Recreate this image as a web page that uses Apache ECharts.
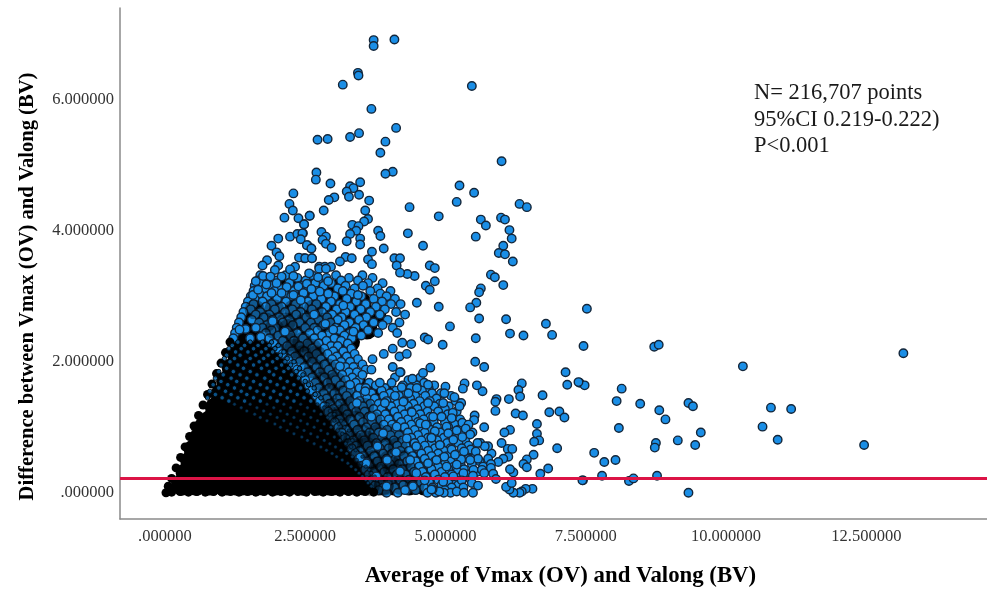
<!DOCTYPE html>
<html><head><meta charset="utf-8">
<style>html,body{margin:0;padding:0;background:#fff}#c{width:987px;height:589px}</style>
<script src="https://cdn.jsdelivr.net/npm/echarts@6/dist/echarts.min.js"></script>
</head><body><div id="c"></div>
<script>
const xTicks = [0, 2.5, 5, 7.5, 10, 12.5];
const xTickLabels = ['.000000','2.500000','5.000000','7.500000','10.000000','12.500000'];
const yTicks = [0, 2, 4, 6];
const yTickLabels = ['.000000','2.000000','4.000000','6.000000'];
const meanDifference = 0.22;
const annotationLines = ['N= 216,707 points','95%CI 0.219-0.222)','P<0.001'];

// isolated points
const sparsePoints = [
[7.52,2.81],[7.46,2.24],[8.72,2.23],[8.80,2.26],[13.16,2.13],[10.30,1.93],[7.39,1.68],[7.48,1.64],[8.14,1.59],[8.05,1.40],[8.47,1.36],[9.33,1.37],[9.41,1.32],[10.80,1.30],[11.16,1.28],[8.81,1.26],[8.92,1.12],[8.09,.99],[10.65,1.01],[9.55,.92],[9.14,.80],[10.92,.81],[8.75,.76],[8.73,.69],[9.45,.73],[12.46,.73],[7.65,.61],[7.83,.47],[8.03,.50],[7.79,.26],[7.45,.19],[8.27,.18],[8.35,.22],[8.77,.26],[9.33,0],
[3.72,6.91],[3.72,6.82],[4.09,6.92],[3.44,6.41],[3.45,6.37],[3.17,6.23],[5.47,6.21],[3.68,5.86],[4.12,5.57],[3.46,5.49],[3.30,5.43],[2.72,5.39],[2.90,5.40],[3.93,5.36],[3.84,5.19],[6.00,5.06],[4.06,4.90],[3.93,4.87],[2.70,4.89],[2.69,4.78],[2.95,4.72],[3.48,4.74],[5.25,4.69],[3.30,4.68],[3.36,4.65],[3.24,4.60],[5.51,4.58],[3.28,4.52],[3.46,4.55],[3.02,4.51],[2.92,4.47],[3.64,4.46],[5.20,4.44],[6.32,4.41],[6.45,4.36],[4.36,4.36],[3.57,4.31],[2.83,4.31],[2.58,4.23],[4.88,4.22],[5.99,4.20],[6.06,4.17],[5.63,4.17],[5.72,4.08],[3.62,4.18],[3.55,4.14],[2.48,4.10],[3.34,4.09],[3.45,4.07],[3.41,4.00],[3.80,4.00],[6.14,4.01],[2.79,3.98],[3.30,3.95],[2.46,3.96],[3.84,3.92],[4.33,3.96],[5.54,3.91],[2.87,3.91],[6.18,3.88],[3.48,3.88],[3.24,3.84],[2.81,3.86],[2.87,3.80],[2.54,3.78],[3.48,3.79],[4.60,3.77],[6.03,3.77],[2.61,3.73],[2.97,3.74],[3.90,3.73],[3.69,3.68],[5.95,3.66],[6.06,3.64],[3.22,3.60],[3.33,3.58],[2.62,3.58],[2.48,3.58],[3.62,3.56],[4.09,3.58],[4.19,3.58],[3.12,3.53],[3.69,3.49],[6.20,3.53],[4.13,3.47],[4.72,3.47],[4.81,3.43],[2.75,3.45],[2.85,3.45],[2.96,3.45],
[5.81,3.33],[5.88,3.29],[6.03,3.17],[4.81,3.23],[4.65,3.16],[4.72,3.10],[4.45,3.31],[4.32,3.34],[4.19,3.36],[5.63,3.12],[5.60,3.06],[5.55,2.90],[5.44,2.83],[4.49,2.90],[4.88,2.84],[5.60,2.66],[6.08,2.65],[6.79,2.58],[6.90,2.41],[6.15,2.43],[6.39,2.40],[5.08,2.54],[5.54,2.36],[4.63,2.37],[4.69,2.34],[4.95,2.26],[4.39,2.27],[4.23,2.29],[4.31,2.12],[5.53,2.00],[5.69,1.92],[4.73,1.91],[7.14,1.84],[7.17,1.65],[7.37,1.69],[6.36,1.67],[6.30,1.57],[6.33,1.47],[6.13,1.43],[5.91,1.43],[5.89,1.39],[6.73,1.49],[5.89,1.25],[6.25,1.21],[6.38,1.18],[6.85,1.23],[7.03,1.24],[7.12,1.15],[6.63,1.05],[6.63,.90],[6.67,.80],[6.58,.78],[6.99,.68],[6.57,.58],[6.45,.51],[6.39,.44],[6.45,.39],[6.83,.37],[6.69,.29],[7.44,.19],[6.55,.06],[6.43,.06],[6.36,.02],[6.32,0],[6.21,0],[6.14,.05],[6.08,.09],[6.18,.15],[6.21,.31],[6.15,.36],[6.15,.96],[6.05,.92],[6.00,.76],[6.11,.67],[6.19,.67],[6.12,.55],[6.03,.52],[5.94,.47],[5.81,.44],[5.81,.38],[5.85,.29],[5.90,.21],[5.76,.71],[5.70,.71],[5.57,.76],[5.69,1.00],[5.52,1.18],[5.51,1.11],[5.66,1.55],[5.56,1.64],[5.34,1.67],[5.31,1.59],[5.28,1.37],[5.25,1.32],[5.16,1.46],[5.00,1.62],[4.98,1.52],[4.96,1.37],[5.13,1.22],[5.11,1.14],[4.93,1.16],[4.78,1.16],[5.30,1.07],[5.41,1.04],[5.36,.98],[5.44,.89],[5.20,.95],[5.02,1.01],[5.05,.91],[5.14,.81],[5.30,.85],[4.81,.94],[4.75,.84],[4.90,.73],[5.11,.66],[5.45,.66],[5.33,.63],[5.54,.63],[5.58,.52],[5.44,.50],[5.28,.51],[5.17,.58],[4.98,.55],[4.84,.50],[5.02,.40],[5.20,.43],[5.50,.35],[5.65,.35],[5.69,.30],[5.32,.30],[5.14,.25],[5.49,.26],[4.96,.17],[5.29,.19],[5.47,.15],[5.58,.11],[5.32,.08],[5.20,.02],[5.33,0],[5.49,0],[4.97,0],[4.89,.02],[4.77,.05],
[2.29,4.57],[2.22,4.41],[2.28,4.31],[2.13,4.20],[2.38,4.19],[2.58,4.23],[2.48,4.10],[2.02,3.88],[1.90,3.77],[2.23,3.91],[2.36,3.95],[2.45,3.96],[2.42,3.87],[2.53,3.78],[2.61,3.73],[1.99,3.67],[2.04,3.61],[2.39,3.59],[2.50,3.58],[2.62,3.58],[1.82,3.55],[1.74,3.47],[2.02,3.47],[1.96,3.40],[2.32,3.45],[2.23,3.41],[2.75,3.42],[2.87,3.42],[2.57,3.35],[2.73,3.29],[2.91,3.23],[1.62,3.23],[1.75,3.31],[1.88,3.30],[2.08,3.30],[2.29,3.31],[1.57,3.02],[1.81,3.18],[1.99,3.20],[2.17,3.14],[2.38,3.15],[2.53,3.19],[2.61,3.11],[2.76,3.07],[2.91,3.04],[1.66,3.10],[1.90,3.05],[2.08,3.05],[2.29,3.02],[2.47,3.05]
];

// the crowded band, read row by row: [y, [x, x, ...]]
const crowdedRows = [
[3.32,[1.70,2.15,2.62,3.05,3.52]],[3.28,[1.84,2.36,2.88,3.28,3.70]],[3.24,[1.66,1.98,2.51,2.74,3.14,3.44]],[3.20,[1.72,2.22,2.68,2.96,3.62,3.88]],
[3.16,[1.60,1.89,2.41,2.83,3.22,3.53]],[3.12,[1.78,2.04,2.56,3.08,3.38,3.79]],[3.08,[1.58,1.95,2.30,2.71,3.17,3.66,4.02]],[3.04,[1.68,2.12,2.47,2.90,3.32,3.84]],
[3.00,[1.53,1.82,2.25,2.64,3.02,3.50,3.95]],[2.96,[1.60,2.00,2.38,2.79,3.24,3.72,4.10]],[2.92,[1.48,1.74,2.16,2.55,2.96,3.41,3.87]],[2.88,[1.58,1.90,2.33,2.70,3.12,3.58,4.03,4.20]],
[2.84,[1.44,1.80,2.08,2.48,2.87,3.30,3.76]],[2.80,[1.53,1.96,2.27,2.62,3.06,3.49,3.92]],[2.76,[1.40,1.70,2.14,2.42,2.80,3.22,3.66,4.12]],[2.72,[1.62,1.86,2.34,2.68,2.98,3.38,3.83,4.28]],
[2.68,[1.36,1.76,2.04,2.52,2.89,3.15,3.59]],[2.64,[1.55,1.92,2.22,2.74,3.08,3.46,3.97]],[2.60,[1.32,1.68,2.10,2.40,2.60,2.95,3.29,3.72,4.18]],[2.56,[1.82,2.28,2.82,3.20,3.54,3.88]],
[2.52,[1.28,1.74,1.98,2.50,2.66,3.04,3.40,4.06]],[2.48,[1.90,2.18,2.72,3.12,3.62]],[2.44,[1.25,1.80,2.36,2.58,2.93,3.30,3.80,4.14]],[2.40,[2.02,2.24,2.80,3.20,3.50]],
[2.36,[1.22,1.86,2.46,2.66,3.02,3.33]],[2.32,[2.10,2.30,2.88,3.14]],[2.28,[1.94,2.54,2.74,3.26]],[2.24,[2.18,2.40,2.96,3.08]],
[2.20,[2.02,2.62,2.84,3.32,4.06]],[2.16,[2.26,2.48,3.00,3.18]],[2.12,[2.10,2.70,2.90,3.38,3.90]],[2.08,[2.32,2.56,3.06,3.24,4.18]],
[2.04,[2.20,2.78,2.98,3.44,3.70]],[2.00,[2.40,2.62,3.14,3.30]],[1.96,[2.28,2.84,3.04,3.52]],[1.92,[2.48,2.70,3.22,3.36,4.06]],
[1.88,[2.36,2.92,3.10,3.58]],[1.84,[2.54,2.76,3.28,3.42,4.20]],[1.80,[2.44,2.98,3.16]],[1.76,[2.62,2.84,3.34,4.10,4.55]],
[1.72,[2.50,3.04,3.22,3.46,4.34]],[1.68,[2.68,2.90,3.40,3.64,4.04,4.62]],[1.64,[2.56,3.13,3.27,3.76,4.24,4.48,4.80]],[1.60,[2.74,2.93,3.47,3.58,3.92,4.38,4.70]],
[1.56,[2.62,3.18,3.31,3.86,4.12,4.58]],[1.52,[2.83,3.02,3.55,3.68,4.01,4.30,4.76,4.92]],[1.48,[2.70,3.24,3.42,3.90,4.17,4.46,4.64,5.10]],[1.44,[2.88,3.07,3.60,3.74,4.08,4.37,4.84]],
[1.40,[2.76,3.30,3.47,3.95,4.26,4.54,4.72,5.18]],[1.36,[2.93,3.12,3.66,3.81,4.14,4.43,4.90]],[1.32,[2.84,3.35,3.53,4.03,4.33,4.62,4.80,5.06]],[1.28,[3.00,3.19,3.72,3.86,4.21,4.50,4.99]],
[1.24,[2.91,3.41,3.56,4.09,4.39,4.68,4.87,5.20]],[1.20,[3.05,3.25,3.78,3.93,4.27,4.55,5.04]],[1.16,[2.97,3.47,3.63,4.15,4.45,4.73,4.93]],[1.12,[3.11,3.30,3.84,3.99,4.33,4.61,5.11,5.26]],
[1.08,[3.03,3.53,3.69,4.21,4.51,4.79,4.99]],[1.04,[3.17,3.37,3.90,4.05,4.39,4.67,5.17,5.34]],[1.00,[3.09,3.59,3.75,4.27,4.57,4.85,5.05]],[.96,[3.23,3.43,3.96,4.11,4.45,4.73,5.23]],
[.92,[3.15,3.65,3.81,4.33,4.63,4.91,5.11,5.48]],[.88,[3.29,3.49,4.02,4.17,4.51,4.79,5.29]],[.84,[3.21,3.71,3.87,4.39,4.69,4.97,5.17]],[.80,[3.35,3.55,4.08,4.23,4.57,4.85,5.35]],
[.76,[3.27,3.77,3.93,4.45,4.75,5.03,5.23,5.62]],[.72,[3.41,3.61,4.14,4.29,4.63,4.91,5.41]],[.68,[3.33,3.83,3.99,4.51,4.81,5.09,5.29]],[.64,[3.47,3.67,4.20,4.35,4.69,4.97,5.47]],
[.60,[3.39,3.89,4.05,4.57,4.87,5.15,5.35,5.82]],[.56,[3.53,3.73,4.26,4.41,4.75,5.03,5.53]],[.52,[3.45,3.95,4.11,4.63,4.93,5.21,5.41,5.76]],[.48,[3.59,3.79,4.32,4.47,4.81,5.09,5.61]],
[.44,[3.51,4.01,4.17,4.69,4.99,5.27,5.47]],[.40,[3.65,3.85,4.38,4.53,4.87,5.15,5.67]],[.36,[3.57,4.07,4.23,4.75,5.05,5.33]],[.32,[3.71,3.91,4.44,4.59,4.93,5.21,5.57]],
[.28,[3.63,4.13,4.29,4.81,5.11,5.39]],[.24,[3.77,3.97,4.50,4.65,4.99,5.27]],[.20,[3.69,4.19,4.35,4.87,5.17,5.45]],[.16,[3.83,4.03,4.56,4.71,5.05]],
[.12,[3.75,4.25,4.41,4.93,5.23]],[.08,[3.89,4.09,4.62,4.77,5.11]],[.04,[3.81,4.31,4.47,4.99]],[0,[3.95,4.15,4.68,4.83,5.09]]
];

// overlapping dark mass behind the crowded band
const backdropRows = [
[3.10,[1.80,2.07,2.34,2.61,2.88,3.10]],
[2.90,[1.72,1.99,2.26,2.53,2.80,3.07,3.34,3.50]],
[2.70,[1.60,1.87,2.14,2.41,2.68,2.95,3.22,3.49,3.76]],
[2.50,[1.50,1.77,2.04,2.31,2.58,2.85,3.12,3.39,3.60]],
[2.30,[1.40,1.67,1.94,2.21,2.48,2.75,3.02,3.29]],
[2.10,[1.30,1.57,1.84,2.11,2.38,2.65,2.92,3.19]],
[1.90,[1.20,1.47,1.74,2.01,2.28,2.55,2.82,3.09,3.20]],
[1.70,[1.10,1.37,1.64,1.91,2.18,2.45,2.72,2.99,3.26,3.40]],
[1.50,[1.00,1.27,1.54,1.81,2.08,2.35,2.62,2.89,3.16,3.43,3.70,3.90]],
[1.30,[0.90,1.17,1.44,1.71,1.98,2.25,2.52,2.79,3.06,3.33,3.60,3.87,4.14,4.40]],
[1.10,[0.80,1.07,1.34,1.61,1.88,2.15,2.42,2.69,2.96,3.23,3.50,3.77,4.04,4.31,4.60]],
[0.90,[0.70,0.97,1.24,1.51,1.78,2.05,2.32,2.59,2.86,3.13,3.40,3.67,3.94,4.21,4.48,4.70]],
[0.70,[0.60,0.87,1.14,1.41,1.68,1.95,2.22,2.49,2.76,3.03,3.30,3.57,3.84,4.11,4.38,4.65,4.80]],
[0.50,[0.50,0.77,1.04,1.31,1.58,1.85,2.12,2.39,2.66,2.93,3.20,3.47,3.74,4.01,4.28,4.55,4.82,4.90]],
[0.30,[0.40,0.67,0.94,1.21,1.48,1.75,2.02,2.29,2.56,2.83,3.10,3.37,3.64,3.91,4.18,4.45,4.72]],
[0.12,[0.30,0.57,0.84,1.11,1.38,1.65,1.92,2.19,2.46,2.73,3.00,3.27,3.54,3.81,4.08,4.35,4.62]]
];

// where the blue is half hidden by overlapping dark rims
const shadeRows = [
[1.50,[2.90,3.20]],[1.30,[3.00,3.30,3.55]],[1.10,[3.10,3.40,3.70]],[.90,[3.20,3.50,3.80,4.05]],
[.70,[3.30,3.60,3.90,4.15]],[.50,[3.40,3.70,4.00,4.25]],[.30,[3.50,3.80,4.10,4.35]],[.12,[3.60,3.90,4.20,4.45]],
[1.70,[2.80,3.05]],[1.90,[2.65,2.90]],[2.10,[2.45,2.70]],[2.30,[2.20,2.45]],[2.50,[1.95,2.20]],
[2.80,[1.60,1.95,2.30,2.65]],[2.60,[1.80,2.15,2.50,2.85]],[2.20,[2.30,2.62]],
[1.20,[2.90,3.15]],[.80,[3.10,3.35,3.60]],[.40,[3.30,3.55,3.80,4.05]],[.10,[3.40,3.65,3.90]]
];

// individually visible markers lying on top of the crowded band
const topPoints = [[4.10,1.48],[3.92,1.37],[4.22,1.61],[4.41,1.74],[4.60,1.83],[4.69,1.65],[4.49,1.60],[4.34,1.52],[3.83,1.68],[3.52,1.80],[3.68,1.88],[4.19,1.84],[4.40,1.23],[4.25,1.39],[4.69,1.37],[4.55,1.06],[4.65,1.04],[4.13,1.01],[3.89,.91],[4.31,.83],[4.75,.84],[4.48,.71],[4.12,.62],[3.79,.71],[3.96,.50],[4.37,.50],[4.69,.45],[4.48,.30],[4.19,.33],[4.63,.19],[4.42,.10],[4.75,.05],[4.28,.04],[3.77,.25],[3.95,.10],[3.59,.45],[3.48,.54],[3.68,1.16],[3.42,1.37],[3.57,1.55],[3.30,1.65],[3.12,1.93],[3.36,2.46],[3.00,2.49],[1.62,2.52],[1.44,2.50],[1.71,2.38],[1.52,2.36],[1.33,2.49],[1.92,2.62],[2.14,2.46],[2.66,2.72],[3.18,2.86],[3.44,3.02],[2.42,2.94],[2.86,2.58]];

// fully black core where markers pile up
const coreRows = [
[0.12,[0.30,0.54,0.78,1.02,1.26,1.50,1.74,1.98,2.22,2.46,2.70,2.92,3.10]],
[0.30,[0.38,0.62,0.86,1.10,1.34,1.58,1.82,2.06,2.30,2.54,2.74,2.94]],
[0.48,[0.46,0.70,0.94,1.18,1.42,1.66,1.90,2.14,2.38,2.60]],
[0.66,[0.52,0.76,1.00,1.24,1.48,1.72,1.96,2.20]],
[0.84,[0.62,0.86,1.10,1.34,1.58,1.80]],
[1.00,[0.70,0.94,1.16,1.38]]
];
const edgePoints = [[.02,0],[.06,.10],[.12,.22],[.20,.38],[.28,.54],[.36,.70],[.44,.86],[.52,1.02],[.60,1.18],[.68,1.34],[.76,1.50],[.84,1.66],[.92,1.82],[1.00,1.98],[1.08,2.14],[1.16,2.30],
[.12,.01],[.27,.02],[.42,.01],[.57,.02],[.72,.01],[.87,.02],[1.02,.01],[1.17,.02],[1.32,.01],[1.47,.02],[1.62,.01],[1.77,.02],[1.92,.01],[2.07,.02],[2.22,.01],[2.37,.02],[2.52,.01],[2.67,.02],[2.82,.01],[2.97,.02],[3.12,.01],[3.27,.02],[3.42,.01],[3.57,.02],[3.72,.01]];

// blue glints still visible through the dark mass
const glintRows = [
[2.30,[1.30,1.52,1.74,1.90]],[2.25,[1.20,1.42,1.66,1.86,2.02]],[2.20,[1.14,1.36,1.58,1.80,1.96]],[2.15,[1.26,1.48,1.72,1.92,2.12]],
[2.10,[1.10,1.34,1.62,1.84,2.06]],[2.05,[1.06,1.24,1.52,1.76,2.00,2.18]],[2.00,[1.16,1.44,1.68,1.92,2.14,2.30]],[1.95,[1.00,1.30,1.58,1.82,2.08,2.24]],
[1.90,[1.10,1.40,1.72,1.98,2.20,2.40]],[1.85,[.96,1.22,1.52,1.86,2.12,2.34]],[1.80,[1.04,1.34,1.64,1.94,2.26,2.46]],[1.75,[.90,1.18,1.46,1.78,2.06,2.38]],
[1.70,[1.00,1.28,1.58,1.88,2.18,2.50]],[1.65,[.86,1.12,1.40,1.70,2.00,2.30,2.56]],[1.60,[.96,1.24,1.52,1.82,2.12,2.42,2.66]],[1.55,[.80,1.08,1.36,1.64,1.94,2.24,2.54]],
[1.50,[.90,1.18,1.46,1.76,2.06,2.36,2.68]],[1.45,[.76,1.02,1.30,1.58,1.88,2.18,2.48,2.78]],[1.40,[1.14,1.42,1.70,2.00,2.30,2.60]]
];
const dimGlintRows = [
[1.35,[1.24,1.52,1.82,2.12,2.42,2.72,2.90]],[1.30,[1.36,1.64,1.94,2.24,2.54,2.84]],[1.25,[1.46,1.76,2.06,2.36,2.66,2.94]],[1.20,[1.60,1.88,2.18,2.48,2.78,3.02]],
[1.15,[1.70,2.00,2.30,2.60,2.90]],[1.10,[1.82,2.12,2.42,2.72,3.02,3.14]],[1.05,[1.96,2.24,2.54,2.84,3.10]],[1.00,[2.06,2.36,2.66,2.96,3.20]],
[.95,[2.18,2.48,2.78,3.08,3.28]],[.90,[2.30,2.60,2.90,3.16]],[.85,[2.44,2.72,3.02,3.26]],[.80,[2.54,2.84,3.12,3.34]],
[.75,[2.66,2.94,3.22]],[.70,[2.78,3.04,3.32]],[.65,[2.88,3.14,3.40]],[.60,[2.98,3.24]],[.55,[3.06,3.34,3.52]],[.50,[3.16,3.42]],
[.45,[3.26,3.50]],[.40,[3.32,3.58]],[.35,[3.40,3.64]],[.30,[3.46,3.68]],[.25,[3.52,3.74]],[.20,[3.58,3.78]],[.15,[3.62]],[.10,[3.68]]
];

const expand = rows => rows.flatMap(([y, xs]) => xs.map(x => [x, y]));
const blue = '#1a8ee6', rim = '#13263a';
const scatter = (name, data, size, color, border, bw, opacity) => ({
  name, type: 'scatter', data, symbolSize: size, silent: true, animation: false,
  progressive: 0, itemStyle: {color, borderColor: border, borderWidth: bw, opacity}
});
const chart = echarts.init(document.getElementById('c'), null, {renderer: 'canvas'});
const labelStyle = {fontFamily: 'Liberation Serif', fontSize: 16.5, color: '#333'};
const nameStyle = {fontFamily: 'Liberation Serif', fontWeight: 'bold', color: '#000'};
const axisLine = {show: true, onZero: false, lineStyle: {color: '#8a8a8a', width: 1.5}};
chart.setOption({
  animation: false,
  backgroundColor: '#fff',
  grid: {left: 120, right: 0, top: 8, bottom: 70, outerBoundsMode: 'none'},
  xAxis: {
    type: 'value', min: -0.8, max: 14.65,
    axisLine, axisTick: {show: false}, splitLine: {show: false},
    axisLabel: {...labelStyle, margin: 9, customValues: xTicks,
      formatter: v => xTickLabels[xTicks.indexOf(v)]},
    name: 'Average of Vmax (OV) and Valong (BV)', nameLocation: 'middle', nameGap: 46,
    nameTextStyle: {...nameStyle, fontSize: 22.8, padding: [0, 0, 0, 14]}
  },
  yAxis: {
    type: 'value', min: -0.4, max: 7.4,
    axisLine, axisTick: {show: false}, splitLine: {show: false},
    axisLabel: {...labelStyle, margin: 6, padding: [5, 0, 0, 0], customValues: yTicks,
      formatter: v => yTickLabels[yTicks.indexOf(v)]},
    name: 'Difference between Vmax (OV) and Valong (BV)', nameLocation: 'middle', nameGap: 82,
    nameTextStyle: {...nameStyle, fontSize: 20.6, padding: [0, 46, 0, 0]}
  },
  series: [
    scatter('backdrop', expand(backdropRows), 21, '#000', '#000', 0, 1),
    scatter('points', [...expand(crowdedRows), ...sparsePoints], 8.5, blue, rim, 1.4, 1),
    scatter('shade', expand(shadeRows), 20, '#000', '#000', 0, 0.36),
    scatter('top points', topPoints, 8.5, blue, rim, 1.4, 1),
    scatter('core', expand(coreRows), 21, '#000', '#000', 0, 1),
    scatter('edge', edgePoints, 9, '#000', '#000', 0, 1),
    scatter('glints', expand(glintRows), 4.5, '#0d5f9e', '#000', 1, 0.85),
    {...scatter('dim glints', expand(dimGlintRows), 3.5, '#083a60', '#000', 0.5, 0.9),
      markLine: {silent: true, symbol: 'none', animation: false, label: {show: false},
        lineStyle: {color: '#dc1446', width: 3, type: 'solid'},
        data: [{yAxis: meanDifference}]}}
  ],
  graphic: [{type: 'text', left: 754, top: 80, silent: true, z: 100,
    style: {text: annotationLines.join('\n'), fontFamily: 'Liberation Serif', fontSize: 22.5,
      lineHeight: 26.5, fill: '#1a1a1a'}}]
});
</script></body></html>
